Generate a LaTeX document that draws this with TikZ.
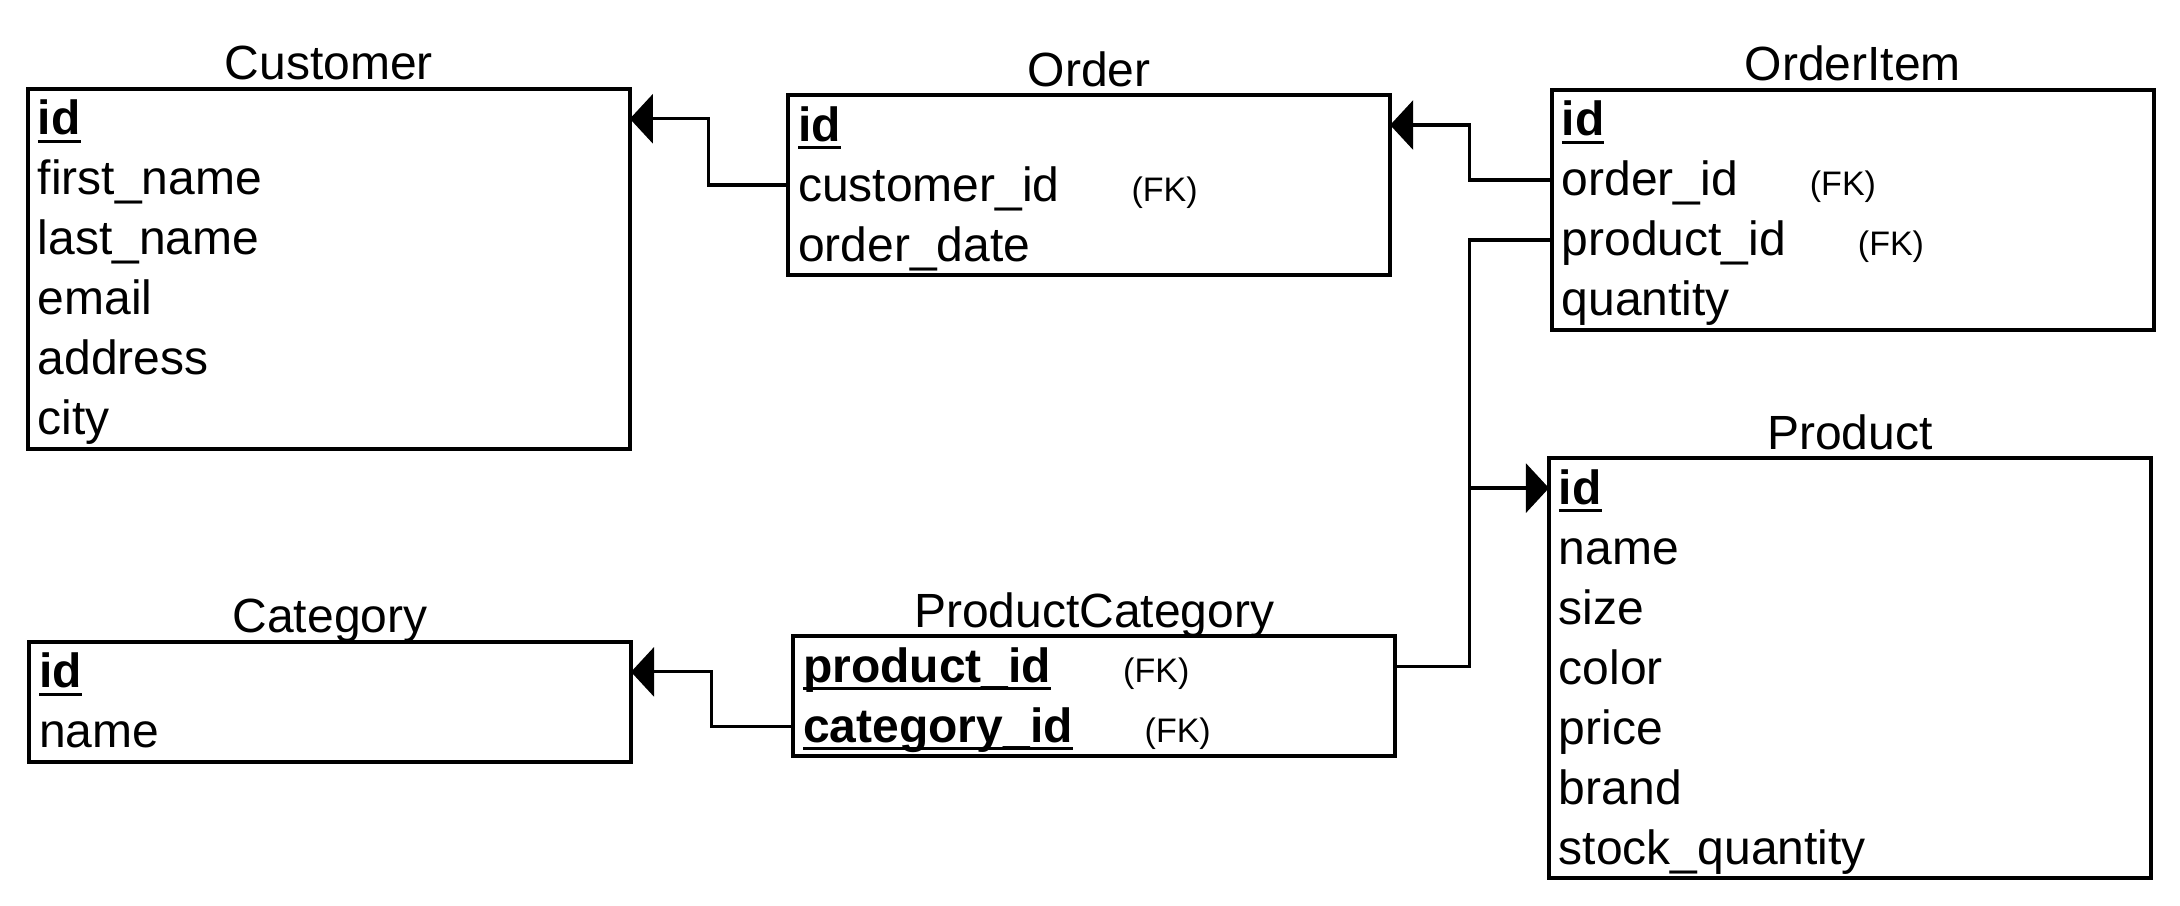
\documentclass[tikz,border=0pt]{standalone}
\usepackage{fontspec}
\setmainfont{Liberation Sans}
\usepackage{tikz}
\usetikzlibrary{arrows.meta,positioning}
\newcommand{\erWidth}{291pt}
\newcommand{\erRow}{30pt}
\newcommand{\pk}[1]{\leavevmode\setbox0\hbox{\textbf{#1}}\rlap{\rule[-4pt]{\wd0}{1.6pt}}\box0}
\newcommand{\fk}{\hspace{36pt}{\fontsize{17}{20}\selectfont (FK)}}

\begin{document}
\begin{tikzpicture}[line width=1.6pt,
		every node/.style={font=\fontsize{24}{28}\selectfont},
		field/.style={inner xsep=5pt, inner ysep=0pt, outer sep=0pt, text width=\erWidth, minimum height=\erRow, text height=18pt, text depth=2pt, align=left},
		title/.style={inner sep=0pt, anchor=base},
		frame/.style={line width=1.9pt},
		link/.style={-{Triangle[length=11.5pt,width=24.5pt]}}]
		\useasboundingbox (0,0) rectangle (38.31,-15.92);
		%\begin{table}{Customer}
			\node[field, anchor=north west] (cu-id) at (0.49,-1.56) {\pk{id}};
			\node[field, below=0pt of cu-id] (cu-first) {first\_name};
			\node[field, below=0pt of cu-first] (cu-last) {last\_name};
			\node[field, below=0pt of cu-last] (cu-email) {email};
			\node[field, below=0pt of cu-email] (cu-addr) {address};
			\node[field, below=0pt of cu-addr] (cu-city) {city};
			\draw[frame] (cu-id.north west) rectangle (cu-city.south east);
			\node[above=4.5pt of cu-id, title] (cu-title) {Customer};
		%\end{table}
		%\begin{table}{Order}
			\node[field, anchor=north west] (or-id) at (13.85,-1.67) {\pk{id}};
			\node[field, below=0pt of or-id] (or-cust) {customer\_id\fk};
			\node[field, below=0pt of or-cust] (or-date) {order\_date};
			\draw[frame] (or-id.north west) rectangle (or-date.south east);
			\node[above=4.5pt of or-id, title] (or-title) {Order};
		%\end{table}
		%\begin{table}{OrderItem}
			\node[field, anchor=north west] (oi-id) at (27.27,-1.58) {\pk{id}};
			\node[field, below=0pt of oi-id] (oi-order) {order\_id\fk};
			\node[field, below=0pt of oi-order] (oi-prod) {product\_id\fk};
			\node[field, below=0pt of oi-prod] (oi-qty) {quantity};
			\draw[frame] (oi-id.north west) rectangle (oi-qty.south east);
			\node[above=4.5pt of oi-id, title] (oi-title) {OrderItem};
		%\end{table}
		%\begin{table}{Product}
			\node[field, anchor=north west] (pr-id) at (27.22,-8.05) {\pk{id}};
			\node[field, below=0pt of pr-id] (pr-name) {name};
			\node[field, below=0pt of pr-name] (pr-size) {size};
			\node[field, below=0pt of pr-size] (pr-color) {color};
			\node[field, below=0pt of pr-color] (pr-price) {price};
			\node[field, below=0pt of pr-price] (pr-brand) {brand};
			\node[field, below=0pt of pr-brand] (pr-stock) {stock\_quantity};
			\draw[frame] (pr-id.north west) rectangle (pr-stock.south east);
			\node[above=4.5pt of pr-id, title] (pr-title) {Product};
		%\end{table}
		%\begin{table}{Category}
			\node[field, anchor=north west] (ca-id) at (0.51,-11.28) {\pk{id}};
			\node[field, below=0pt of ca-id] (ca-name) {name};
			\draw[frame] (ca-id.north west) rectangle (ca-name.south east);
			\node[above=4.5pt of ca-id, title] (ca-title) {Category};
		%\end{table}
		%\begin{table}{ProductCategory}
			\node[field, anchor=north west] (pc-prod) at (13.94,-11.18) {\pk{product\_id}\fk};
			\node[field, below=0pt of pc-prod] (pc-cat) {\pk{category\_id}\fk};
			\draw[frame] (pc-prod.north west) rectangle (pc-cat.south east);
			\node[above=4.5pt of pc-prod, title] (pc-title) {ProductCategory};
		%\end{table}
		\draw[link] (or-cust.west) -- ++(-40pt,0) |- (cu-id.east);
		\draw[link] (oi-order.west) -- ++(-41pt,0) |- (or-id.east);
		\draw (oi-prod.west) -- ++(-41pt,0) coordinate (bus) |- (pc-prod.east);
		\draw[link] (bus |- pr-id.west) -- (pr-id.west);
		\draw[link] (pc-cat.west) -- ++(-41pt,0) |- (ca-id.east);
	\end{tikzpicture}
\end{document}
